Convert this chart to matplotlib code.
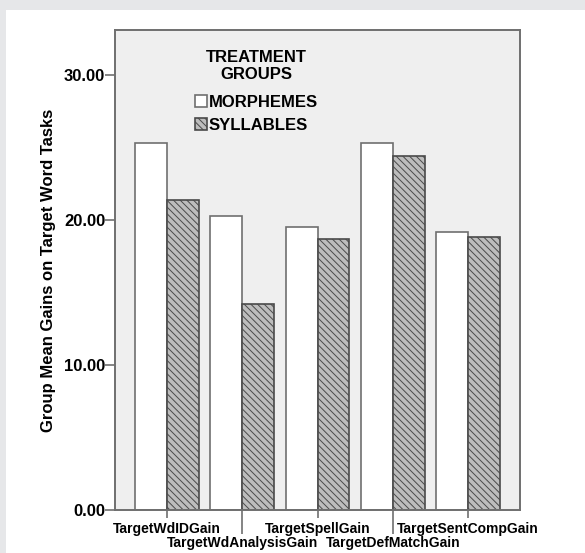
import matplotlib.pyplot as plt
import matplotlib.patches as mpatches
import numpy as np

plt.rcParams['font.family'] = ['Liberation Sans', 'DejaVu Sans']
plt.rcParams['font.weight'] = 'bold'
plt.rcParams['hatch.linewidth'] = 0.7

tareas = ['TargetWdIDGain', 'TargetWdAnalysisGain', 'TargetSpellGain',
          'TargetDefMatchGain', 'TargetSentCompGain']
morfemas = [25.3, 20.3, 19.5, 25.3, 19.2]
silabas = [21.4, 14.2, 18.7, 24.4, 18.8]
ticks_y = [0, 10, 20, 30]

fig = plt.figure(figsize=(5.85, 5.53), dpi=100)
fig.patch.set_facecolor('white')
# marco gris de fondo
fig.patches.append(mpatches.Rectangle((0, 0), 1, 1, transform=fig.transFigure,
                                      facecolor='#e6e7e9', edgecolor='none', zorder=-2))
fig.patches.append(mpatches.Rectangle((6 / 585, 0), 1, 1 - 10 / 553, transform=fig.transFigure,
                                      facecolor='white', edgecolor='none', zorder=-1))

ax = fig.add_axes([115 / 585, 43 / 553, 405 / 585, 480 / 553])
ax.set_facecolor('#efefef')

x = np.arange(len(tareas))
ancho = 0.425
gris = '#6f6f6f'
ax.bar(x - ancho / 2, morfemas, ancho, facecolor='white', edgecolor=gris,
       linewidth=1.2, label='MORPHEMES')
ax.bar(x + ancho / 2, silabas, ancho, facecolor='#bdbdbd', edgecolor='#4a4a4a',
       linewidth=1.2, hatch='\\\\\\\\\\', label='SYLLABLES')

ax.set_xlim(-0.69, len(tareas) - 1 + 0.69)
ax.set_ylim(0, 33.1)
ax.set_yticks(ticks_y)
ax.set_yticklabels(['%.2f' % v for v in ticks_y], fontsize=12, fontweight='bold')

# etiquetas del eje x en dos filas alternadas
ax.set_xticks(x)
ax.set_xticklabels([])
for i, t in enumerate(tareas):
    dy = -8.5 if i % 2 == 0 else -18.5
    ax.annotate(t, xy=(x[i], 0), xycoords=('data', 'axes fraction'),
                xytext=(0, dy), textcoords='offset points', ha='center', va='top',
                fontsize=10, fontweight='bold', annotation_clip=False)

for s in ax.spines.values():
    s.set_color(gris)
    s.set_linewidth(1.4)
ax.tick_params(axis='y', length=7, width=1.2, color=gris, pad=0)
ax.tick_params(axis='x', length=6, width=1.2, color=gris, pad=2)
for i, t in enumerate(ax.xaxis.get_major_ticks()):
    if i % 2 == 1:
        t.tick1line.set_markersize(17)

ax.set_ylabel('Group Mean Gains on Target Word Tasks', fontsize=12,
              fontweight='bold', labelpad=6)

leg = ax.legend(title='TREATMENT\nGROUPS', loc='upper left', bbox_to_anchor=(0.16, 0.99),
                frameon=False, fontsize=12, title_fontsize=12, handlelength=0.75,
                handleheight=0.75, handletextpad=0.1, labelspacing=0.5)
leg.get_title().set_fontweight('bold')
leg.get_title().set_multialignment('center')
leg._legend_box.align = 'center'
leg._legend_box.sep = 9

fig.savefig('out.png', dpi=100)
